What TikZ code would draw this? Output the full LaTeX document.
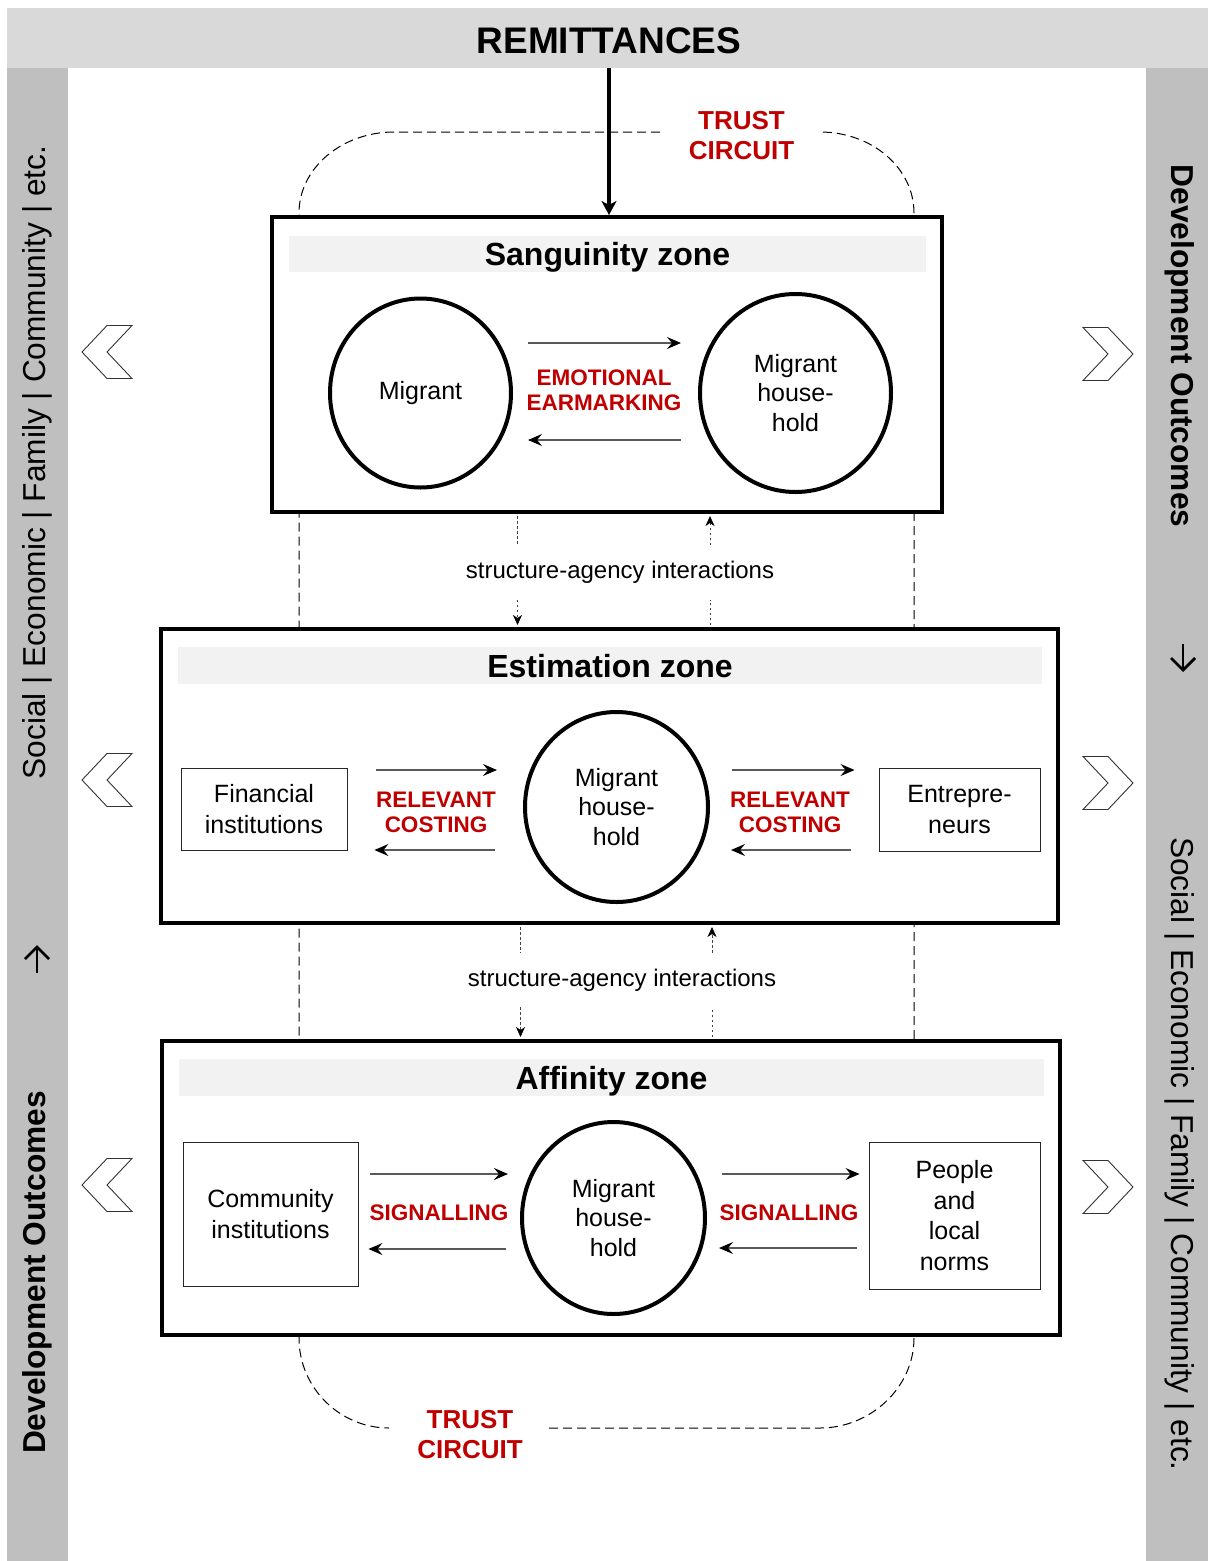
\documentclass[tikz,border=0pt]{standalone}
\usepackage{fontspec}
\setmainfont{Liberation Sans}
\usetikzlibrary{shapes.geometric,arrows.meta,calc}

\definecolor{bandtop}{HTML}{D9D9D9}
\definecolor{bandside}{HTML}{BFBFBF}
\definecolor{titlegrey}{HTML}{F2F2F2}
\definecolor{keyred}{HTML}{C00000}

\newcommand{\pxfont}[2]{\fontsize{#1}{#2}\selectfont}

\tikzset{
  zonebox/.style={draw, line width=4pt, fill=white, inner sep=0pt},
  zonetitle/.style={fill=titlegrey, inner sep=0pt, text height=23pt, text depth=0pt, font=\pxfont{32}{36}\bfseries},
  actor/.style={ellipse, draw, line width=4pt, fill=white, align=center, inner sep=0pt, font=\pxfont{25}{29.5}},
  party/.style={draw=black!85, line width=0.9pt, fill=white, align=center, inner sep=0pt, font=\pxfont{25}{30.8}},
  keylabel/.style={text=keyred, font=\pxfont{22.5}{25.5}\bfseries, align=center},
  circuitlabel/.style={text=keyred, font=\pxfont{26}{30}\bfseries, align=center},
  flow/.style={draw=black!65, line width=1.2pt, -{Stealth[length=14pt,width=12pt,inset=5pt,color=black]}},
  mainflow/.style={draw=black, line width=4pt, -{Stealth[length=14pt,width=15pt,inset=4pt]}},
  interplay/.style={draw=black!75, line width=0.8pt, dash pattern=on 2.5pt off 2.5pt, shorten <=2pt, shorten >=2pt},
  interhead/.style={interplay, -{Stealth[length=10pt,width=9pt,inset=3pt,color=black]}},
  interlabel/.style={inner sep=0pt, minimum height=50pt, font=\pxfont{24}{28}},
  circuit/.style={draw=black, line width=1pt, dash pattern=on 9pt off 5pt},
  sidetext/.style={inner sep=0pt, font=\pxfont{31.7}{36}},
  sidearrow/.style={draw=black, line width=2.8pt, line cap=butt, line join=miter},
  chevron/.style={draw=black!80, line width=0.9pt, fill=white, line join=miter},
}

\begin{document}
\begin{tikzpicture}[x=1pt,y=-1pt]
\useasboundingbox (0,0) rectangle (1211,1561);

% bands framing the figure
\node[fill=bandtop, inner sep=0pt, minimum width=1201pt, minimum height=60pt] (remit) at (607.5,38) {};
\node[font=\pxfont{37}{40}\bfseries, inner sep=0pt] (remtxt) at (609,41) {REMITTANCES};
\fill[bandside] (7,68) rectangle (68,1561);
\fill[bandside] (1146,68) rectangle (1208,1561);

% side captions
\node[sidetext, rotate=90] (lsoc) at (37,462.5) {Social | Economic | Family | Community | etc.};
\node[sidetext, rotate=90, font=\pxfont{31.7}{36}\bfseries] (ldev) at (37,1272.5) {Development Outcomes};
\node[sidetext, rotate=-90, font=\pxfont{31.7}{36}\bfseries] (rdev) at (1180,346) {Development Outcomes};
\node[sidetext, rotate=-90] (rsoc) at (1180,1154) {Social | Economic | Family | Community | etc.};
% arrows leading from one caption to the next
\draw[sidearrow] (37,973) -- (37,948);
\draw[sidearrow] (25,959) -- (37,947) -- (49,959);
\draw[sidearrow] (1183,644) -- (1183,669);
\draw[sidearrow] (1171,658) -- (1183,670) -- (1195,658);

% chevrons pointing out of the zones
\foreach \c in {352,780,1185}
  \draw[chevron] (82,\c) -- (107,\c-26.5) -- (132,\c-26.5) -- (107,\c) -- (132,\c+26.5) -- (107,\c+26.5) -- cycle;
\foreach \c in {354,783,1187}
  \draw[chevron] (1083,\c-26.5) -- (1108,\c-26.5) -- (1133,\c) -- (1108,\c+26.5) -- (1083,\c+26.5) -- (1108,\c) -- cycle;

% trust circuit loop running behind the zones
\draw[circuit] (660,132) -- (394,132) .. controls (342,132) and (299,168) .. (299,213)
  -- (299,1338) .. controls (299,1388) and (340,1428) .. (389,1428);
\draw[circuit] (549,1428) -- (820,1428) .. controls (870,1428) and (914,1388) .. (914,1338)
  -- (914,213) .. controls (914,168) and (872,132) .. (820,132);
\node[circuitlabel] (tctop) at (741.5,136) {TRUST\\CIRCUIT};
\node[circuitlabel] (tcbot) at (470,1435) {TRUST\\CIRCUIT};

% the three zones
\node[zonebox, minimum width=670pt, minimum height=295pt] (sang) at (607,364.5) {};
\node[zonebox, minimum width=897pt, minimum height=294pt] (est) at (609.5,776) {};
\node[zonebox, minimum width=898pt, minimum height=294pt] (aff) at (611,1188) {};

\node[zonetitle, minimum width=637pt, minimum height=36pt] (sangt) at (607.5,254) {Sanguinity zone};
\node[zonetitle, minimum width=864pt, minimum height=37pt] (estt) at (610,665.5) {Estimation zone};
\node[zonetitle, minimum width=865pt, minimum height=37pt] (afft) at (611.5,1077.5) {Affinity zone};

% remittances enter the sanguinity zone
\coordinate (feed) at (609,0);
\draw[mainflow] (remit.south -| feed) -- (sang.north -| feed);

% sanguinity zone
\node[actor, minimum width=181pt, minimum height=189pt] (mig) at (420.5,393) {Migrant};
\node[actor, minimum width=191pt, minimum height=198pt] (mhh) at (795.5,393) {Migrant\\house-\\hold};
\draw[flow] ($(mig.east)+(15,-50)$) -- ($(mhh.west)+(-17,-50)$);
\draw[flow] ($(mhh.west)+(-17,47)$) -- ($(mig.east)+(15,47)$);
\node[keylabel] (emo) at (604,390) {EMOTIONAL\\EARMARKING};

% estimation zone
\node[party, minimum width=166pt, minimum height=82pt] (fin) at (264,809) {Financial\\institutions};
\node[actor, minimum width=183pt, minimum height=190pt] (emh) at (616.5,807) {Migrant\\house-\\hold};
\node[party, minimum width=161pt, minimum height=83pt] (ent) at (959.5,809.5) {Entrepre-\\neurs};
\draw[flow] ($(fin.east)+(29,-39)$) -- ($(emh.west)+(-26,-37)$);
\draw[flow] ($(emh.west)+(-28,43)$) -- ($(fin.east)+(27,41)$);
\draw[flow] ($(emh.east)+(22,-37)$) -- ($(ent.west)+(-24,-39.5)$);
\draw[flow] ($(ent.west)+(-28,40.5)$) -- ($(emh.east)+(21,43)$);
\node[keylabel] (costl) at (436,812.5) {RELEVANT\\COSTING};
\node[keylabel] (costr) at (790,812.5) {RELEVANT\\COSTING};

% affinity zone
\node[party, minimum width=175pt, minimum height=144pt] (com) at (270.5,1214) {Community\\institutions};
\node[actor, minimum width=183pt, minimum height=192pt] (amh) at (613.5,1218) {Migrant\\house-\\hold};
\node[party, minimum width=171pt, minimum height=147pt] (ppl) at (954.5,1215.5) {People\\and\\local\\norms};
\draw[flow] ($(com.east)+(12,-40)$) -- ($(amh.west)+(-12,-44)$);
\draw[flow] ($(amh.west)+(-14,31)$) -- ($(com.east)+(10,35)$);
\draw[flow] ($(amh.east)+(15,-44)$) -- ($(ppl.west)+(-9,-41.5)$);
\draw[flow] ($(ppl.west)+(-12,32.5)$) -- ($(amh.east)+(12,30)$);
\node[keylabel] (sigl) at (439,1213) {SIGNALLING};
\node[keylabel] (sigr) at (789,1213) {SIGNALLING};

% structure-agency interactions between zones
\node[interlabel] (sa1) at (620,572.5) {structure-agency interactions};
\coordinate (d1l) at (517.5,0);
\coordinate (d1r) at (710,0);
\draw[interplay] (sang.south -| d1l) -- (sa1.north -| d1l);
\draw[interhead] (sa1.south -| d1l) -- (est.north -| d1l);
\draw[interplay] (est.north -| d1r) -- (sa1.south -| d1r);
\draw[interhead] (sa1.north -| d1r) -- (sang.south -| d1r);

\node[interlabel] (sa2) at (622,980) {structure-agency interactions};
\coordinate (d2l) at (520.5,0);
\coordinate (d2r) at (712,0);
\draw[interplay] (est.south -| d2l) -- (sa2.north -| d2l);
\draw[interhead] (sa2.south -| d2l) -- (aff.north -| d2l);
\draw[interplay] (aff.north -| d2r) -- (sa2.south -| d2r);
\draw[interhead] (sa2.north -| d2r) -- (est.south -| d2r);
\end{tikzpicture}
\end{document}
